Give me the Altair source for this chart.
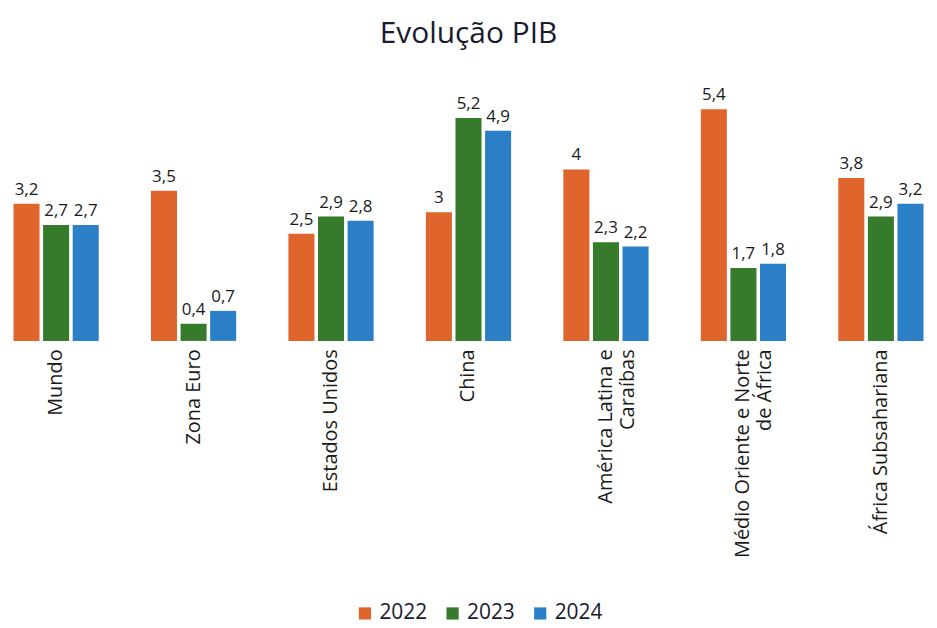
import altair as alt
import pandas as pd

regions = ["Mundo", "Zona Euro", "Estados  Unidos", "China", "América Latina e|Caraíbas",
           "Médio Oriente e Norte|de África", "África Subsahariana"]
years = ["2022", "2023", "2024"]
v2022 = [3.2, 3.5, 2.5, 3.0, 4.0, 5.4, 3.8]
v2023 = [2.7, 0.4, 2.9, 5.2, 2.3, 1.7, 2.9]
v2024 = [2.7, 0.7, 2.8, 4.9, 2.2, 1.8, 3.2]
colors = ["#E0652C", "#367A2C", "#2A7FC6"]

rows = []
for i, r in enumerate(regions):
    for y, vals in zip(years, [v2022, v2023, v2024]):
        rows.append({"regiao": r, "ano": y, "valor": vals[i]})
df = pd.DataFrame(rows)

FONT = "Open Sans"

base = alt.Chart(df).encode(
    x=alt.X("regiao:N", sort=regions, title=None,
            scale=alt.Scale(paddingInner=0.38, paddingOuter=0.04),
            axis=alt.Axis(labelAngle=-90, labelAlign="right", labelBaseline="middle",
                          labelExpr="split(datum.label, '|')", labelFontSize=20,
                          labelFont=FONT, labelColor="#1a1a1a", labelPadding=8,
                          domain=False, ticks=False, labelLimit=400, labelLineHeight=22)),
    xOffset=alt.XOffset("ano:N", sort=years, scale=alt.Scale(paddingInner=0.12)),
)

bars = base.mark_bar().encode(
    y=alt.Y("valor:Q", axis=None, scale=alt.Scale(domain=[0, 6.2], nice=False)),
    color=alt.Color("ano:N", sort=years, scale=alt.Scale(domain=years, range=colors),
                    legend=alt.Legend(orient="none", direction="horizontal",
                                      legendX=348, legendY=530, title=None,
                                      symbolType="square", symbolSize=150,
                                      labelFontSize=21, labelFont=FONT,
                                      labelColor="#1a1a2e", columnPadding=14,
                                      symbolStrokeWidth=0)),
)

texts = base.mark_text(dy=-14, fontSize=17, font=FONT, color="#1a1a1a").transform_calculate(
    lbl="replace(format(datum.valor, ''), '.', ',')"
).encode(
    y=alt.Y("valor:Q"),
    text="lbl:N",
)

chart = (bars + texts).properties(
    width=925, height=267,
    title=alt.TitleParams("Evolução PIB", fontSize=30, font=FONT, fontWeight="normal",
                          color="#1a1a2e", offset=26),
    padding={"left": 0, "right": 0, "top": 10, "bottom": 0},
).configure_view(stroke=None)

chart.save("out.html", embed_options={"renderer": "svg", "actions": False})
